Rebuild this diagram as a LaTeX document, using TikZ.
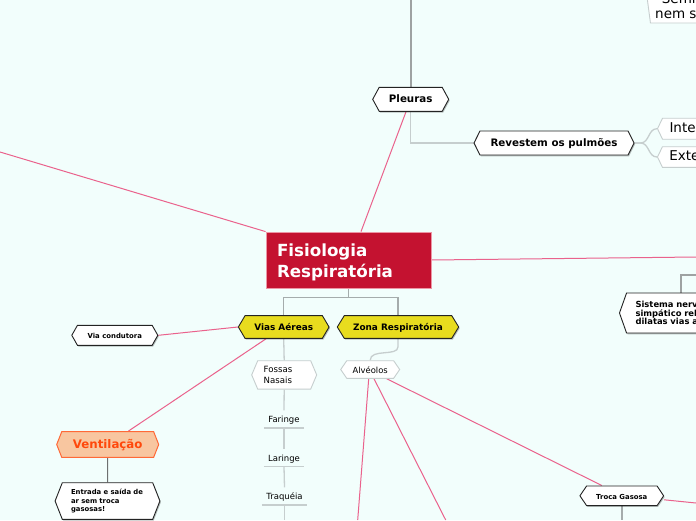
\documentclass[tikz,border=0pt]{standalone}
\usepackage{fontspec}
\setmainfont{DejaVu Sans}
\usetikzlibrary{shapes.symbols,shadows}
\newcommand\fsz[2]{\fontsize{#1}{#2}\selectfont}
\definecolor{bgc}{RGB}{242,254,252}
\definecolor{rootred}{RGB}{196,18,48}
\definecolor{rootedge}{RGB}{236,150,165}
\definecolor{pinkc}{RGB}{234,98,140}
\definecolor{graya}{RGB}{158,162,162}
\definecolor{grayb}{RGB}{165,172,172}
\definecolor{grayc}{RGB}{198,206,206}
\definecolor{darkb}{RGB}{35,35,35}
\definecolor{yellowc}{RGB}{232,220,30}
\definecolor{orfill}{RGB}{248,198,160}
\definecolor{oredge}{RGB}{255,105,55}
\definecolor{ortext}{RGB}{255,72,12}
\definecolor{lineg}{RGB}{110,112,112}
\pgfdeclarelayer{conn}
\pgfsetlayers{conn,main}
\begin{document}
\begin{tikzpicture}[x=1pt,y=-1pt,
  hexbase/.style={shape=signal, signal to=west and east, inner sep=0pt},
  one/.style={text height=0.73em, text depth=0pt},
  hexw/.style={hexbase, draw=darkb, fill=white, line width=0.9pt, font=\bfseries,
    drop shadow={shadow xshift=1pt, shadow yshift=-1.3pt, opacity=0.25, fill=black}},
  hexy/.style={hexw, fill=yellowc},
  hexl/.style={hexbase, draw=grayc, fill=white, line width=0.9pt},
  rootbox/.style={rectangle, fill=rootred, draw=rootedge, line width=0.8pt, text=white,
    font=\bfseries\fsz{16.7}{20.6}, text width=143pt, align=left, inner xsep=11pt,
    inner ysep=0pt, minimum height=56pt},
  lvl/.style={rectangle, inner xsep=0pt, inner ysep=5pt, one, font=\fsz{8.5}{10}},
  pinkl/.style={draw=pinkc, line width=1pt},
  grayl/.style={draw=grayb, line width=1.5pt},
  lightl/.style={draw=grayc, line width=1.3pt},
  ul/.style={draw=grayc, line width=1.5pt}
]
\useasboundingbox (0,0) rectangle (696,520);
\begin{pgfonlayer}{conn}
\fill[bgc] (0,0) rectangle (696,520);
\end{pgfonlayer}
\clip (0,0) rectangle (696,520);

% root
\node[rootbox] (root) at (348.5,260) {\rule{0pt}{17.9pt}Fisiologia\\Respiratória};

% upper branch
\node[hexw, one, font=\bfseries\fsz{10.3}{12}, minimum width=76pt, minimum height=24pt,
  signal pointer angle=123] (pleuras) at (410.7,99.3) {Pleuras};
\node[hexw, one, font=\bfseries\fsz{10.3}{12}, minimum width=160pt, minimum height=24pt,
  signal pointer angle=127] (revestem) at (554,143) {Revestem os pulmões};
\node[hexl, signal to=west, one, font=\fsz{13.5}{15}, anchor=west, minimum height=21pt,
  signal pointer angle=129, inner xsep=7pt, text width=45pt, align=left] (inter) at (657,128.7) {Inter};
\node[hexl, signal to=west, one, font=\fsz{13.5}{15}, anchor=west, minimum height=20.6pt,
  signal pointer angle=129, inner xsep=7pt, text width=45pt, align=left] (exte) at (657,157) {Exte};
\node[hexl, signal to=west, anchor=west, minimum height=53pt, minimum width=80pt,
  signal pointer angle=165] (semin) at (646.5,-3.5) {};
\node[anchor=base west, inner sep=0pt, font=\fsz{13.5}{15}] (semina) at (661.7,3.3) {Semin};
\node[anchor=base west, inner sep=0pt, font=\fsz{13.5}{15}] (seminb) at (655,18) {nem sa};

% right branch
\node[hexw, signal to=west, anchor=west, minimum height=40pt, signal pointer angle=141,
  inner xsep=9pt, text width=80pt, align=left, font=\bfseries\fsz{8.4}{8.2}] (sistema) at (619,313)
  {Sistema nerv\\simpático rel\\dilatas vias a};

% lower branches
\node[hexy, one, font=\bfseries\fsz{8.9}{10}, minimum width=90.7pt, minimum height=22.7pt,
  signal pointer angle=119] (vias) at (283.7,327) {Vias Aéreas};
\node[hexy, one, font=\bfseries\fsz{8.9}{10}, minimum width=121.4pt, minimum height=22.7pt,
  signal pointer angle=117] (zona) at (398,327) {Zona Respiratória};
\node[hexw, one, font=\bfseries\fsz{6.9}{8}, minimum width=86pt, minimum height=20pt,
  signal pointer angle=121] (viacond) at (114.8,335.3) {Via condutora};
\node[hexbase, one, draw=oredge, fill=orfill, line width=1pt, text=ortext,
  font=\bfseries\fsz{11.8}{13}, minimum width=102pt, minimum height=25.7pt,
  signal pointer angle=137] (ventil) at (107.7,444.5) {Ventilação};
\node[hexw, minimum height=36.6pt, signal pointer angle=137, inner xsep=8.7pt,
  text width=73pt, align=left, font=\bfseries\fsz{6.85}{8.3}] (entrada) at (107.5,501)
  {Entrada e saída de\\ar sem troca\\gasosas!};
\node[hexl, minimum height=28.3pt, signal pointer angle=134, inner xsep=6pt,
  text width=41pt, align=left, font=\fsz{8.6}{11}] (fossas) at (284.2,374.9) {Fossas\\Nasais};
\node[lvl, anchor=south, minimum width=40pt] (faringe) at (284,428) {Faringe};
\node[lvl, anchor=south, minimum width=40pt] (laringe) at (284,466.5) {Laringe};
\node[lvl, anchor=south, minimum width=45pt] (traqueia) at (284.5,505) {Traquéia};
\node[hexl, one, font=\fsz{8.4}{10}, minimum width=59pt, minimum height=17.6pt,
  signal pointer angle=111] (alveolos) at (370.2,369.5) {Alvéolos};
\node[hexw, one, font=\bfseries\fsz{6.9}{8}, minimum width=83.7pt, minimum height=19.7pt,
  signal pointer angle=112] (troca) at (621.8,495.8) {Troca Gasosa};

% free ends
\coordinate (ptop) at (410.7,0);
\coordinate (lefte) at (0,152);
\coordinate (righte) at (696,257);
\coordinate (sysin) at (696,275);
\coordinate (sysbend) at (681,275);
\coordinate (traqb) at (284.5,520);
\coordinate (alva) at (357.7,520);
\coordinate (alvb) at (445.7,520);
\coordinate (trocar) at (696,503);
\coordinate (trocab) at (621.8,520);

\begin{pgfonlayer}{conn}
\draw[draw=graya, line width=1.8pt] (ptop) -- (pleuras.north);
\draw[lightl] (pleuras.south) |- (revestem.west);
\draw[lightl] (revestem.east) -- ++(6,0) .. controls +(9,0) and +(-9,0) .. (inter.west);
\draw[lightl] (revestem.east) -- ++(6,0) .. controls +(9,0) and +(-9,0) .. (exte.west);
\draw[pinkl] ([xshift=-4.7pt]pleuras.south) -- ([xshift=12.5pt]root.north);
\draw[pinkl] (lefte) -- (root.north west);
\draw[pinkl] (root.east) -- (righte);
\draw[draw=graya, line width=1.3pt] (sysin) -- (sysbend) -- (sysbend |- sistema.north);
\draw[grayl] (root.south) -- ++(0,9) -| (vias.north);
\draw[grayl] (root.south) -- ++(0,9) -| (zona.north);
\draw[pinkl] (vias.west) -- (viacond.east);
\draw[pinkl] ([xshift=-17.7pt]vias.south) -- ([xshift=20.6pt]ventil.north);
\draw[draw=lineg, line width=1pt] (ventil.south) -- (entrada.north);
\draw[lightl] (vias.south) -- (fossas.north);
\draw[lightl] (fossas.south) -- (faringe.north);
\draw[lightl] (faringe.south) -- (laringe.north);
\draw[lightl] (laringe.south) -- (traqueia.north);
\draw[lightl] (traqueia.south) -- (traqb);
\draw[lightl] (zona.south) -- ++(0,8) .. controls +(0,10) and +(0,-12) .. (alveolos.north);
\draw[pinkl] ([xshift=-1.5pt]alveolos.south) -- (alva);
\draw[pinkl] ([xshift=3.8pt]alveolos.south) -- (alvb);
\draw[pinkl] ([xshift=16.5pt]alveolos.south) -- ([xshift=-20pt]troca.north);
\draw[pinkl] ([yshift=-4pt]troca.east) -- (trocar);
\draw[grayl] (troca.south) -- (trocab);
\end{pgfonlayer}
\draw[ul] (faringe.south west) -- (faringe.south east);
\draw[ul] (laringe.south west) -- (laringe.south east);
\draw[ul] (traqueia.south west) -- (traqueia.south east);
\end{tikzpicture}
\end{document}
